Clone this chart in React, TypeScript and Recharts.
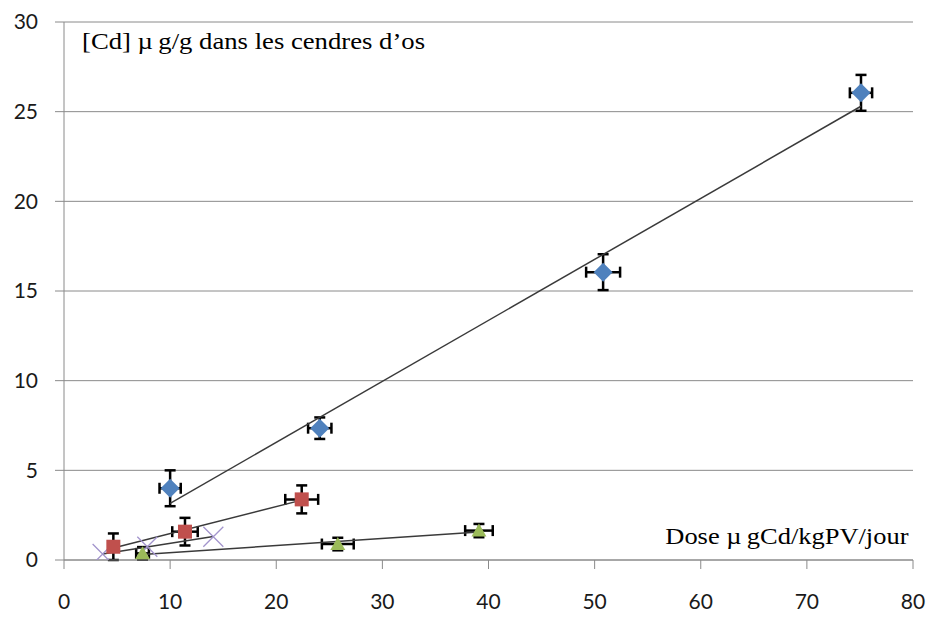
import {
  ComposedChart,
  Scatter,
  ErrorBar,
  XAxis,
  YAxis,
  CartesianGrid,
} from 'recharts'

// values
const blueX = [10.0, 24.1, 50.8, 75.1]
const blueY = [4.0, 7.35, 16.05, 26.05]
const blueXErr = [1.0, 1.1, 1.6, 1.05]
const blueYErr = [1.0, 0.6, 1.0, 1.0]

const redX = [4.65, 11.4, 22.4]
const redY = [0.74, 1.58, 3.38]
const redXErr = [0.4, 1.2, 1.55]
const redYErr = [0.74, 0.77, 0.78]

const greenX = [7.4, 25.8, 39.1]
const greenY = [0.37, 0.89, 1.64]
const greenXErr = [0.6, 1.5, 1.3]
const greenYErr = [0.35, 0.35, 0.37]

const purpleX = [3.64, 7.85, 14.07]
const purpleY = [0.33, 0.74, 1.3]

const xTicks = [0, 10, 20, 30, 40, 50, 60, 70, 80]
const yTicks = [0, 5, 10, 15, 20, 25, 30]

const yLabel = '[Cd] \u00b5\u2009g/g dans les cendres d\u2019os'
const xLabel = 'Dose \u00b5\u2009gCd/kgPV/jour'

const points = (xs: number[], ys: number[], ex?: number[], ey?: number[]) =>
  xs.map((x, i) => ({ x, y: ys[i], ex: ex ? ex[i] : 0, ey: ey ? ey[i] : 0 }))

// linear trendline (least squares) across the series' x range
const trend = (xs: number[], ys: number[]) => {
  const n = xs.length
  const mx = xs.reduce((a, b) => a + b, 0) / n
  const my = ys.reduce((a, b) => a + b, 0) / n
  let sxx = 0
  let sxy = 0
  xs.forEach((x, i) => {
    sxx += (x - mx) * (x - mx)
    sxy += (x - mx) * (ys[i] - my)
  })
  const slope = sxy / sxx
  const icpt = my - slope * mx
  const lo = Math.min(...xs)
  const hi = Math.max(...xs)
  return [
    { x: lo, y: icpt + slope * lo },
    { x: hi, y: icpt + slope * hi },
  ]
}

const Diamond = ({ cx, cy }: any) => (
  <path d={`M${cx},${cy - 9.5}L${cx + 9.5},${cy}L${cx},${cy + 9.5}L${cx - 9.5},${cy}Z`} fill="#4F81BD" />
)
const Square = ({ cx, cy }: any) => <rect x={cx - 7} y={cy - 7} width={14} height={14} fill="#C0504D" />
const Triangle = ({ cx, cy }: any) => (
  <path d={`M${cx},${cy - 7}L${cx + 7.5},${cy + 6}L${cx - 7.5},${cy + 6}Z`} fill="#9BBB59" />
)
const Cross = ({ cx, cy }: any) => (
  <path
    d={`M${cx - 10},${cy - 10}L${cx + 10},${cy + 10}M${cx + 10},${cy - 10}L${cx - 10},${cy + 10}`}
    stroke="#a294cc"
    strokeWidth={1.3}
    fill="none"
  />
)
const NoDot = () => <g />

const trendLine = { stroke: '#3a3a3a', strokeWidth: 1.5 }
const tickFont = { fontSize: 21, fontFamily: 'Lato', fill: '#1a1a1a' }
const labelStyle = {
  position: 'absolute' as const,
  fontFamily: '"Liberation Serif", "Times New Roman", serif',
  fontSize: 23,
  lineHeight: 1,
  color: '#000',
  whiteSpace: 'nowrap' as const,
}

const bars = () => [
  <ErrorBar key="ex" dataKey="ex" direction="x" width={5.5} stroke="#000" strokeWidth={2.5} isAnimationActive={false} />,
  <ErrorBar key="ey" dataKey="ey" direction="y" width={5.5} stroke="#000" strokeWidth={2.5} isAnimationActive={false} />,
]

export default function App() {
  return (
    <div style={{ position: 'absolute', left: 0, top: 0, width: 932, height: 617, background: '#fff' }}>
      <ComposedChart width={932} height={617} margin={{ top: 22, right: 19, bottom: 17, left: 10 }}>
        <CartesianGrid vertical={false} stroke="#8a8a8a" />
        <XAxis
          type="number"
          dataKey="x"
          domain={[0, 80]}
          ticks={xTicks}
          height={40}
          stroke="#8a8a8a"
          tickSize={9}
          tickMargin={25}
          tick={tickFont}
          allowDataOverflow
        />
        <YAxis
          type="number"
          dataKey="y"
          domain={[0, 30]}
          ticks={yTicks}
          width={54}
          stroke="#8a8a8a"
          tickSize={9}
          tickMargin={17}
          tick={tickFont}
          allowDataOverflow
        />
        <Scatter data={trend(blueX, blueY)} line={trendLine} shape={NoDot} isAnimationActive={false} />
        <Scatter data={trend(redX, redY)} line={trendLine} shape={NoDot} isAnimationActive={false} />
        <Scatter data={trend(greenX, greenY)} line={trendLine} shape={NoDot} isAnimationActive={false} />
        <Scatter data={trend(purpleX, purpleY)} line={trendLine} shape={NoDot} isAnimationActive={false} />
        <Scatter data={points(purpleX, purpleY)} shape={Cross} isAnimationActive={false} />
        <Scatter data={points(blueX, blueY, blueXErr, blueYErr)} shape={Diamond} isAnimationActive={false}>
          {bars()}
        </Scatter>
        <Scatter data={points(redX, redY, redXErr, redYErr)} shape={Square} isAnimationActive={false}>
          {bars()}
        </Scatter>
        <Scatter data={points(greenX, greenY, greenXErr, greenYErr)} shape={Triangle} isAnimationActive={false}>
          {bars()}
        </Scatter>
      </ComposedChart>
      <div style={{ ...labelStyle, left: 82, top: 30, transform: 'scaleX(1.16)', transformOrigin: 'left top' }}>
        {yLabel}
      </div>
      <div style={{ ...labelStyle, right: 24, top: 525, transform: 'scaleX(1.15)', transformOrigin: 'right top' }}>
        {xLabel}
      </div>
    </div>
  )
}
